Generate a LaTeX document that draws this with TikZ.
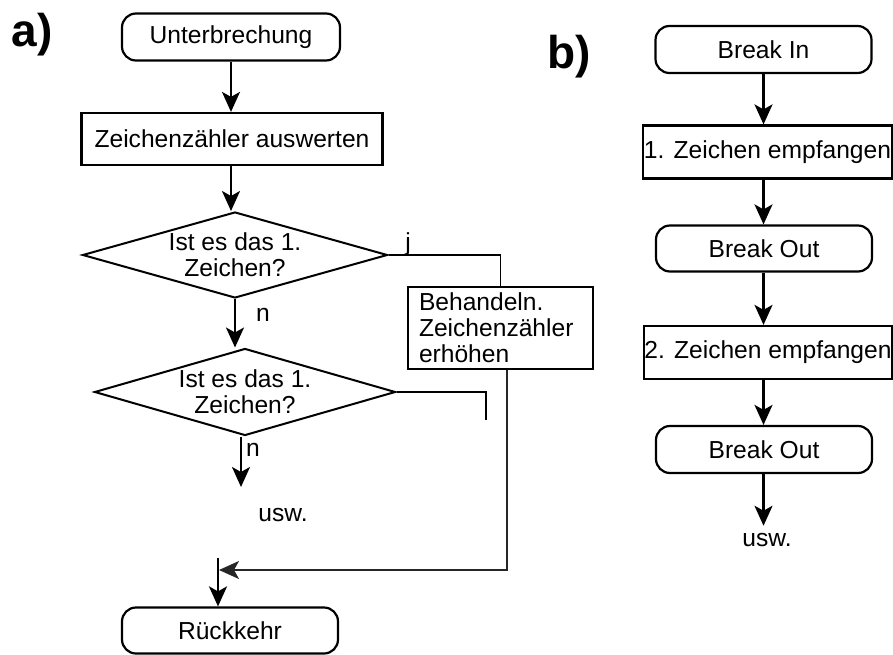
\documentclass[tikz,border=0pt]{standalone}
\usepackage{fontspec}
\setmainfont{Liberation Sans}
\usetikzlibrary{shapes.geometric,arrows.meta}

\begin{document}
\begin{tikzpicture}[x=1pt,y=-1pt,
font=\fontsize{24.6}{26}\selectfont,
terminal/.style={rectangle,draw,rounded corners=14pt,
line width=2.2pt,minimum width=216pt,minimum height=46pt,inner sep=0pt},
process/.style={rectangle,draw,line width=2.2pt,
minimum height=53pt,inner sep=0pt},
decision/.style={diamond,draw,line width=2pt,aspect=3.5,
inner sep=0pt,align=center},
tag/.style={font=\fontsize{46}{46}\bfseries\selectfont},
flow/.style={-{Stealth[length=20pt 0 0,width=18pt 0 0,inset=5pt]},line width=2.2pt},
wire/.style={line width=1.2pt}]

\useasboundingbox (0,0) rectangle (893,655);

\node[tag] (la) at (32,35) {a)};
\node[terminal,minimum width=218pt,minimum height=47pt]
(intr) at (231,37) {Unterbrechung};
\node[process,minimum width=301pt,minimum height=52pt]
(cnt) at (232,139) {Zeichenzähler auswerten};
\node[decision,minimum width=305pt,minimum height=86pt]
(q1) at (235,255) {Ist es das 1.\\Zeichen?};
\node[decision,minimum width=301pt,minimum height=87pt]
(q2) at (245,392) {Ist es das 1.\\Zeichen?};
\node[process,minimum height=82pt,align=left,
text width=163pt,inner xsep=11pt]
(hdl) at (500.5,328) {Behandeln.\\Zeichenzähler\\erhöhen};
\node[terminal] (ret) at (230,630.5) {Rückkehr};
\node (y1) at (408,244) {j};
\node (n1) at (263,315) {n};
\node (n2) at (253,450) {n};
\node (etc) at (283,515) {usw.};
\coordinate (cont) at (241,487);
\coordinate (stub) at (486,420);
\coordinate (join) at (218,570);
\coordinate (jtop) at (218,558);

\draw[flow] (intr.south) -- (intr.south |- cnt.north);
\draw[flow] (intr.south |- cnt.south) -- (intr.south |- q1.north);
\draw[flow] (q1.south) -- (q1.south |- q2.north);
\draw[flow] (q2.south -| cont) -- (cont);
\draw[wire] (q1.east) -| (hdl.north);
\draw[wire] (q2.east) -| (stub);
\draw[flow,line width=1.6pt,draw=black!85,shorten >=1pt]
([xshift=6.5pt]hdl.south) |- (join);
\draw[flow] (jtop) -- (jtop |- ret.north);

\node[tag] (lb) at (569,57) {b)};
\node[terminal,minimum height=47pt] (bin) at (763.5,49.5) {Break In};
\node[process,minimum width=249pt] (rx1) at (767.5,152) {1. Zeichen empfangen};
\node[terminal] (bo1) at (764,248.5) {Break Out};
\node[process,minimum width=248pt] (rx2) at (768,352.5) {2. Zeichen empfangen};
\node[terminal,minimum height=47pt] (bo2) at (764,449.5) {Break Out};
\node (etc2) at (767,540) {usw.};

\draw[flow] (bin.south) -- (bin.south |- rx1.north);
\draw[flow] (bin.south |- rx1.south) -- (bin.south |- bo1.north);
\draw[flow] (bin.south |- bo1.south) -- (bin.south |- rx2.north);
\draw[flow] (bin.south |- rx2.south) -- (bin.south |- bo2.north);
\draw[flow,shorten >=4pt] (bin.south |- bo2.south) -- (bin.south |- etc2.north);
\end{tikzpicture}
\end{document}
